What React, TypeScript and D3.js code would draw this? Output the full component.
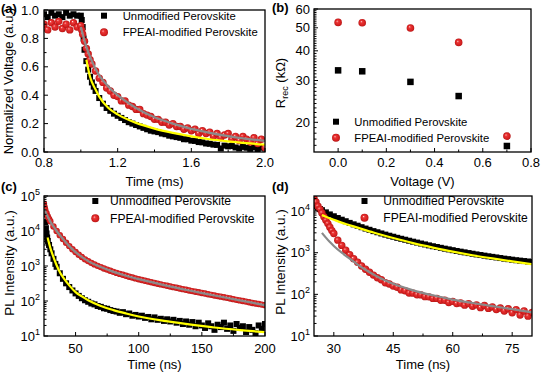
import React from "react";
import * as d3 from "d3";

const FONT = "Arial, 'Liberation Sans', Helvetica, sans-serif";
type P = [number, number];

// ---------- (a) transient photovoltage ----------
const aUnmod: P[] = [
  [0.80,0.97],[0.82,0.95],[0.84,0.98],[0.86,0.96],[0.88,0.97],[0.90,0.95],[0.92,0.98],[0.94,0.96],[0.96,0.97],[0.98,0.96],[1.00,0.96],
  [1.005,0.93],[1.01,0.88],[1.015,0.80],[1.02,0.72],[1.03,0.64],[1.04,0.58],[1.05,0.53],[1.06,0.49],[1.07,0.46],[1.08,0.43],
  [1.10,0.38],[1.12,0.34],[1.14,0.31],[1.16,0.29],[1.18,0.27],[1.20,0.255],[1.22,0.24],[1.24,0.225],[1.26,0.21],[1.28,0.20],
  [1.30,0.19],[1.32,0.18],[1.34,0.17],[1.36,0.16],[1.38,0.15],[1.40,0.145],[1.42,0.14],[1.44,0.13],[1.46,0.125],[1.48,0.115],
  [1.50,0.11],[1.52,0.105],[1.54,0.10],[1.56,0.09],[1.58,0.09],[1.60,0.08],[1.62,0.078],[1.64,0.07],[1.66,0.068],[1.68,0.06],
  [1.70,0.058],[1.72,0.052],[1.74,0.05],[1.76,0.025],[1.78,0.045],[1.80,0.04],[1.82,0.042],[1.84,0.032],[1.86,0.025],[1.88,0.036],
  [1.90,0.03],[1.92,0.022],[1.94,0.033],[1.96,0.02],[1.98,0.03],[2.00,0.025],
];
const aMod: P[] = [
  [0.80,0.90],[0.82,0.86],[0.84,0.91],[0.86,0.88],[0.88,0.92],[0.90,0.87],[0.92,0.90],[0.94,0.86],[0.96,0.91],[0.98,0.88],[1.00,0.89],
  [1.005,0.86],[1.01,0.83],[1.02,0.78],[1.03,0.73],[1.04,0.69],[1.05,0.65],[1.06,0.62],[1.08,0.57],[1.10,0.52],[1.12,0.49],
  [1.14,0.45],[1.16,0.43],[1.18,0.40],[1.20,0.39],[1.22,0.36],[1.24,0.36],[1.26,0.33],[1.28,0.32],[1.30,0.30],[1.32,0.30],
  [1.34,0.27],[1.36,0.26],[1.38,0.25],[1.40,0.23],[1.42,0.23],[1.44,0.21],[1.46,0.21],[1.48,0.19],[1.50,0.20],[1.52,0.18],
  [1.54,0.18],[1.56,0.16],[1.58,0.17],[1.60,0.15],[1.62,0.16],[1.64,0.13],[1.66,0.15],[1.68,0.13],[1.70,0.14],[1.72,0.11],
  [1.74,0.13],[1.76,0.10],[1.78,0.12],[1.80,0.13],[1.82,0.09],[1.84,0.11],[1.86,0.08],[1.88,0.11],[1.90,0.09],[1.92,0.07],
  [1.94,0.10],[1.96,0.06],[1.98,0.09],[2.00,0.03],
];
const aFitUnmod: P[] = [
  [1.03,0.65],[1.05,0.53],[1.08,0.44],[1.10,0.39],[1.15,0.31],[1.20,0.265],[1.30,0.205],[1.40,0.165],
  [1.50,0.135],[1.60,0.11],[1.70,0.09],[1.80,0.075],[1.90,0.062],[2.00,0.052],
];
const aFitMod: P[] = [
  [1.00,0.88],[1.03,0.74],[1.05,0.67],[1.10,0.54],[1.15,0.46],[1.20,0.40],[1.30,0.31],[1.40,0.245],
  [1.50,0.20],[1.60,0.163],[1.70,0.135],[1.80,0.112],[1.90,0.093],[2.00,0.078],
];

// ---------- (b) recombination resistance ----------
const bVoltage = [0, 0.1, 0.3, 0.5, 0.7];
const bUnmod = [33.1, 32.8, 29.6, 25.8, 15.9];
const bMod = [52.7, 52.5, 49.9, 43.4, 17.5];

// ---------- (c) TRPL on glass ----------
const cUnmod: P[] = [
  [25,50000],[25.5,30000],[26,18000],[26.5,12000],[27,8500],[27.5,6500],[28,5200],[29,4000],[30,3000],[31,2300],
  [32.5,1600],[34,1150],[35,950],[37.5,620],[40,430],[42.5,320],[45,250],[47.5,200],[50,165],[52.5,140],
  [55,120],[57.5,105],[60,95],[62.5,85],[65,80],[67.5,72],[70,68],[72.5,62],[75,60],[77.5,55],
  [80,52],[82.5,50],[85,46],[87.5,48],[90,42],[92.5,44],[95,38],[97.5,40],[100,36],[102.5,38],
  [105,33],[107.5,35],[110,30],[112.5,34],[115,29],[117.5,31],[120,27],[122.5,30],[125,26],[127.5,29],
  [130,24],[132.5,27],[135,22],[137.5,26],[140,21],[142.5,25],[145,19],[147.5,24],[150,20],[152.5,17],
  [155,23],[157.5,19],[160,15],[162.5,21],[165,18],[167.5,24],[170,16],[172.5,20],[175,14],[177.5,22],
  [180,17],[182.5,19],[185,13],[187.5,18],[190,15],[192.5,12],[195,20],[197.5,16],[200,22],
];
const cMod: P[] = [
  [25,60000],[25.5,48000],[26,40000],[27,32000],[28,26000],[29,22000],[30,19000],[32.5,13500],[35,10000],[37.5,7600],
  [40,5900],[42.5,4600],[45,3700],[47.5,3000],[50,2500],[52.5,2100],[55,1800],[57.5,1550],[60,1380],[62.5,1230],
  [65,1110],[67.5,1010],[70,930],[72.5,850],[75,790],[77.5,730],[80,680],[82.5,635],[85,595],[87.5,560],
  [90,525],[92.5,495],[95,468],[97.5,442],[100,420],[102.5,398],[105,378],[107.5,360],[110,343],[112.5,327],
  [115,312],[117.5,298],[120,285],[122.5,272],[125,260],[127.5,249],[130,238],[132.5,228],[135,218],[137.5,209],
  [140,200],[142.5,192],[145,184],[147.5,177],[150,170],[152.5,163],[155,156],[157.5,150],[160,144],[162.5,138],
  [165,133],[167.5,128],[170,123],[172.5,118],[175,113],[177.5,108],[180,104],[182.5,100],[185,96],[187.5,92],
  [190,88],[192.5,85],[195,82],[197.5,79],[200,76],
];
const cFitUnmod: P[] = [
  [27.8,6500],[29,4500],[30,3300],[32,2000],[35,1050],[38,620],[40,480],[45,280],[50,180],[55,135],
  [60,105],[70,72],[80,55],[90,44],[100,36],[120,27],[140,21.5],[160,17.5],[180,14.8],[200,12.8],
];
const cFitMod: P[] = [
  [25,42000],[26,36000],[27,30000],[28,25500],[30,18500],[32.5,13500],[35,10000],[40,5900],[45,3700],[50,2500],
  [60,1380],[70,930],[80,680],[90,525],[100,420],[120,285],[140,200],[160,144],[180,104],[200,76],
];

// ---------- (d) TRPL with ETL ----------
const dUnmod: P[] = [
  [25,14000],[25.5,13000],[26,12000],[26.5,11200],[27,10500],[28,9300],[29,8300],[30,7500],[31,6800],[32,6200],
  [33,5700],[34,5200],[35,4800],[36,4450],[37,4100],[38,3800],[39,3550],[40,3300],[41,3100],[42,2900],
  [43,2720],[44,2560],[45,2420],[46,2280],[47,2160],[48,2050],[49,1940],[50,1840],[51,1750],[52,1660],
  [53,1580],[54,1500],[55,1430],[56,1370],[57,1310],[58,1250],[59,1200],[60,1150],[61,1100],[62,1060],
  [63,1020],[64,980],[65,945],[66,910],[67,880],[68,850],[69,820],[70,795],[71,770],[72,745],
  [73,720],[74,700],[75,680],[76,660],[77,645],[78,630],[79,615],[80,600],
];
const dMod: P[] = [
  [25,20000],[25.5,16500],[26,13000],[26.5,11000],[27,9000],[27.5,7300],[28,6000],[28.5,5000],[29,4100],[29.5,3400],
  [30,2900],[31,2000],[32,1500],[33,1150],[34,900],[35,720],[36,590],[37,480],[38,400],[39,340],
  [40,290],[41,250],[42,225],[43,190],[44,178],[45,158],[46,148],[47,128],[48,122],[49,108],
  [50,107],[51,98],[52,97],[53,88],[54,87],[55,80],[56,80],[57,72],[58,72],[59,64],
  [60,68],[61,60],[62,62],[63,55],[64,60],[65,52],[66,56],[67,48],[68,54],[69,46],
  [70,50],[71,43],[72,47],[73,40],[74,45],[75,36],[76,43],[77,32],[78,40],[79,30],[80,37],
];
const dFitUnmod: P[] = [
  [27,8000],[28,7300],[30,6200],[33,4900],[36,4000],[40,3050],[45,2250],[50,1700],[55,1330],[60,1060],
  [65,870],[70,730],[75,620],[80,530],
];
const dFitMod: P[] = [
  [27,3000],[28,2300],[29,1800],[30,1450],[32,1000],[34,720],[36,520],[38,390],[40,300],[43,215],
  [46,165],[50,125],[55,95],[60,75],[65,62],[70,52],[75,44],[80,37],
];

const legendNames = ["Unmodified Perovskite", "FPEAI-modified Perovskite"];

type Series = { pts: P[]; kind: "sq" | "ball"; size: number };
type Fit = { pts: P[]; color: string; width: number };

function Ball({ cx, cy, r }: { cx: number; cy: number; r: number }) {
  return <circle cx={cx} cy={cy} r={r} fill="url(#ball)" />;
}

function Panel(p: any) {
  const x = p.x, y = p.y;
  const [x0, x1] = x.range();
  const [yb, yt] = y.range();
  const clip = `clip-${p.id}`;
  const line = d3
    .line<P>()
    .x((d) => x(d[0]))
    .y((d) => y(d[1]))
    .curve(d3.curveMonotoneX);
  const lg = p.legend;
  return (
    <g>
      <defs>
        <clipPath id={clip}>
          <rect x={x0} y={yt} width={x1 - x0} height={yb - yt} />
        </clipPath>
      </defs>
      <g clipPath={`url(#${clip})`}>
        {(p.series as Series[]).map((s, i) => (
          <g key={i}>
            {s.pts.map((d, j) =>
              s.kind === "sq" ? (
                <rect key={j} x={x(d[0]) - s.size / 2} y={y(d[1]) - s.size / 2} width={s.size} height={s.size} fill="#000" />
              ) : (
                <Ball key={j} cx={x(d[0])} cy={y(d[1])} r={s.size} />
              )
            )}
          </g>
        ))}
        {(p.fits as Fit[]).map((f, i) => (
          <path key={i} d={line(f.pts) || ""} fill="none" stroke={f.color} strokeWidth={f.width} />
        ))}
      </g>
      <rect x={x0} y={yt} width={x1 - x0} height={yb - yt} fill="none" stroke="#000" strokeWidth={1.3} />
      {p.xMajor.map((v: number) => (
        <g key={"xm" + v}>
          <line x1={x(v)} x2={x(v)} y1={yb} y2={yb - 4} stroke="#000" strokeWidth={1} />
          <text x={x(v)} y={p.xLabelY} textAnchor="middle" fontSize={13}>
            {p.xFmt(v)}
          </text>
        </g>
      ))}
      {p.xMinor.map((v: number) => (
        <line key={"xn" + v} x1={x(v)} x2={x(v)} y1={yb} y2={yb - 2.5} stroke="#000" strokeWidth={1} />
      ))}
      {p.yMajor.map((v: number) => (
        <g key={"ym" + v}>
          <line x1={x0} x2={x0 + 4} y1={y(v)} y2={y(v)} stroke="#000" strokeWidth={1} />
          <text x={x0 - p.yLabelGap} y={y(v) + 4.6} textAnchor="end" fontSize={13}>
            {p.yFmt(v)}
          </text>
        </g>
      ))}
      {p.yMinor.map((v: number) => (
        <line key={"yn" + v} x1={x0} x2={x0 + 2.5} y1={y(v)} y2={y(v)} stroke="#000" strokeWidth={1} />
      ))}
      <text x={(x0 + x1) / 2} y={p.xTitleY} textAnchor="middle" fontSize={13}>
        {p.xTitle}
      </text>
      <text transform={`translate(${p.yTitleX},${p.yTitleY}) rotate(-90)`} textAnchor="middle" fontSize={p.yTitleSize || 13}>
        {p.yTitle}
      </text>
      <text x={p.tag[0]} y={p.tag[1]} fontSize={13} fontWeight="bold">
        {p.tag[2]}
      </text>
      <rect x={lg.mx - 3} y={lg.y1 - 3} width={6} height={6} fill="#000" />
      <Ball cx={lg.mx} cy={lg.y2} r={4} />
      <text x={lg.tx} y={lg.y1 + lg.fs * 0.36} fontSize={lg.fs}>
        {legendNames[0]}
      </text>
      <text x={lg.tx} y={lg.y2 + lg.fs * 0.36} fontSize={lg.fs}>
        {legendNames[1]}
      </text>
    </g>
  );
}

const sup = (e: number) => (
  <>
    10<tspan dy={-6} fontSize={9}>{e}</tspan>
  </>
);

function logMinor(lo: number, hi: number) {
  const out: number[] = [];
  for (let d = 0; d < 6; d++) for (let k = 2; k <= 9; k++) {
    const v = k * Math.pow(10, d);
    if (v > lo && v < hi) out.push(v);
  }
  return out;
}

export default function App() {
  const ax = d3.scaleLinear([0.8, 2.0], [44, 265]);
  const ay = d3.scaleLinear([0, 1], [152, 10]);
  const bx = d3.scaleLinear([-0.1, 0.8], [314, 531]);
  const by = d3.scaleLog([15, 60], [152, 9]);
  const cx = d3.scaleLinear([25, 200], [44, 265]);
  const cy = d3.scaleLog([10, 1e5], [336, 196]);
  const dx = d3.scaleLinear([25, 80], [314, 532]);
  const dy = d3.scaleLog([10, 23000], [336, 196]);

  const bMinor: number[] = [];
  for (let v = 16; v < 60; v++) if (v % 10 !== 0) bMinor.push(v);

  const bUnmodPts: P[] = bVoltage.map((v, i) => [v, bUnmod[i]]);
  const bModPts: P[] = bVoltage.map((v, i) => [v, bMod[i]]);

  return (
    <svg
      width={542}
      height={373}
      style={{ position: "absolute", left: 0, top: 0, background: "#fff" }}
      fontFamily={FONT}
    >
      <defs>
        <radialGradient id="ball" cx="0.5" cy="0.5" r="0.5" fx="0.36" fy="0.33">
          <stop offset="0" stopColor="#fff4f4" />
          <stop offset="0.12" stopColor="#f48080" />
          <stop offset="0.32" stopColor="#ea3434" />
          <stop offset="0.8" stopColor="#d31f1f" />
          <stop offset="1" stopColor="#b51515" />
        </radialGradient>
      </defs>
      <rect x={0} y={0} width={542} height={373} fill="#fff" />
      <Panel
        id="a" x={ax} y={ay}
        xMajor={[0.8, 1.2, 1.6, 2.0]} xMinor={[1.0, 1.4, 1.8]} xFmt={d3.format(".1f")} xLabelY={167}
        yMajor={[0, 0.2, 0.4, 0.6, 0.8, 1.0]} yMinor={[0.1, 0.3, 0.5, 0.7, 0.9]} yFmt={d3.format(".1f")} yLabelGap={5}
        xTitle="Time (ms)" xTitleY={186}
        yTitle="Normalized Voltage (a.u.)" yTitleX={13} yTitleY={81}
        tag={[1, 13, "(a)"]}
        series={[{ pts: aUnmod, kind: "sq", size: 6 }, { pts: aMod, kind: "ball", size: 3.7 }]}
        fits={[{ pts: aFitUnmod, color: "#ffff00", width: 2.2 }, { pts: aFitMod, color: "#8a8a8a", width: 2.2 }]}
        legend={{ mx: 104, tx: 122.7, y1: 15.7, y2: 32.3, fs: 11.3 }}
      />
      <Panel
        id="b" x={bx} y={by}
        xMajor={[0, 0.2, 0.4, 0.6, 0.8]} xMinor={[0.1, 0.3, 0.5, 0.7]} xFmt={d3.format(".1f")} xLabelY={167}
        yMajor={[20, 30, 40, 50, 60]} yMinor={bMinor} yFmt={(v: number) => String(v)} yLabelGap={4}
        xTitle="Voltage (V)" xTitleY={186}
        yTitle={<>R<tspan dy={3} fontSize={9}>rec</tspan><tspan dy={-3}> (kΩ)</tspan></>} yTitleX={285} yTitleY={83}
        tag={[272, 12, "(b)"]}
        series={[{ pts: bUnmodPts, kind: "sq", size: 6.5 }, { pts: bModPts, kind: "ball", size: 3.8 }]}
        fits={[]}
        legend={{ mx: 336, tx: 354.3, y1: 121.7, y2: 137.7, fs: 11.3 }}
      />
      <Panel
        id="c" x={cx} y={cy}
        xMajor={[50, 100, 150, 200]} xMinor={[75, 125, 175]} xFmt={(v: number) => String(v)} xLabelY={353}
        yMajor={[10, 100, 1000, 10000, 100000]} yMinor={logMinor(10, 1e5)} yFmt={(v: number) => sup(Math.round(Math.log10(v)))} yLabelGap={4}
        xTitle="Time (ns)" xTitleY={369}
        yTitle="PL Intensity (a.u.)" yTitleX={14} yTitleY={263} yTitleSize={13.5}
        tag={[1, 191, "(c)"]}
        series={[{ pts: cUnmod, kind: "sq", size: 6 }, { pts: cMod, kind: "ball", size: 3.2 }]}
        fits={[{ pts: cFitUnmod, color: "#ffff00", width: 2.2 }, { pts: cFitMod, color: "#8a8a8a", width: 2.2 }]}
        legend={{ mx: 95.3, tx: 110, y1: 201, y2: 218.3, fs: 12.1 }}
      />
      <Panel
        id="d" x={dx} y={dy}
        xMajor={[30, 45, 60, 75]} xMinor={[37.5, 52.5, 67.5]} xFmt={(v: number) => String(v)} xLabelY={353}
        yMajor={[10, 100, 1000, 10000]} yMinor={logMinor(10, 23000)} yFmt={(v: number) => sup(Math.round(Math.log10(v)))} yLabelGap={4}
        xTitle="Time (ns)" xTitleY={369}
        yTitle="PL Intensity (a.u.)" yTitleX={285} yTitleY={262} yTitleSize={13.5}
        tag={[272, 191, "(d)"]}
        series={[{ pts: dUnmod, kind: "sq", size: 6 }, { pts: dMod, kind: "ball", size: 3.7 }]}
        fits={[{ pts: dFitUnmod, color: "#ffff00", width: 2.2 }, { pts: dFitMod, color: "#8a8a8a", width: 2.2 }]}
        legend={{ mx: 364.5, tx: 383.3, y1: 201, y2: 217.7, fs: 12.1 }}
      />
    </svg>
  );
}
